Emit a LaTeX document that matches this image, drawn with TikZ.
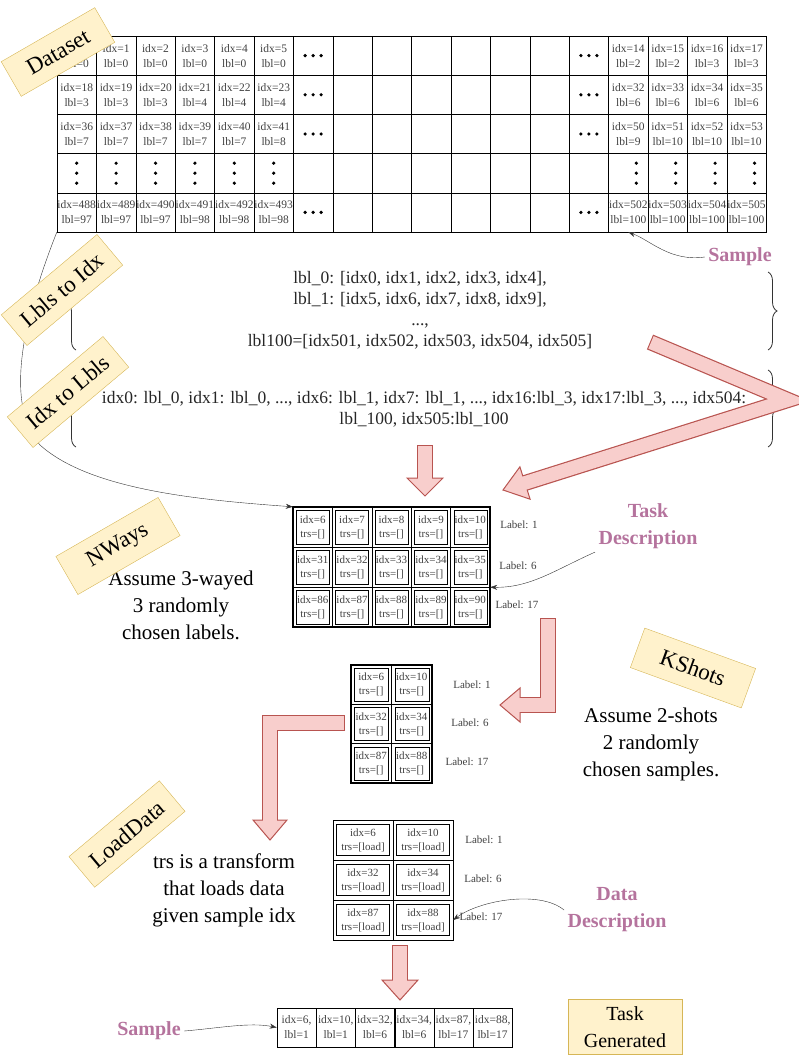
\documentclass[tikz,border=0pt]{standalone}
\usepackage{fontspec}
\setmainfont{Liberation Serif}
\usetikzlibrary{calc,decorations.pathreplacing,arrows.meta}
\definecolor{pfill}{HTML}{F8CECC}\definecolor{pline}{HTML}{B85450}
\definecolor{yfill}{HTML}{FFF2CC}\definecolor{yline}{HTML}{D6B656}
\definecolor{mauve}{HTML}{B5739D}\definecolor{celltxt}{HTML}{404040}
\tikzset{
 tag/.style={draw=yline,fill=yfill,font=\fontsize{23}{25}\selectfont,minimum height=40,inner sep=3,align=center},
 cell/.style={draw,minimum width=39.4,minimum height=39.2,inner sep=0},
 ctext/.style={text=celltxt,align=center,inner sep=0,font=\fontsize{11.5}{15}\selectfont},
 scell/.style={draw,inner sep=0},
 stext/.style={draw,text=celltxt,align=center,inner sep=0,font=\fontsize{11}{14}\selectfont},
 lab/.style={font=\fontsize{11}{12}\selectfont,text=celltxt},
 big/.style={font=\fontsize{21}{27}\selectfont,align=center},
 desc/.style={font=\bfseries\fontsize{20}{27}\selectfont,text=mauve,align=center},
 body/.style={font=\fontsize{17.5}{21}\selectfont,align=center,text=black!85},
 conn/.style={-{Stealth[length=7,width=5]},black!80,thin},
 brc/.style={decorate,decoration={brace,amplitude=9},black!80,thick},
 pout/.style={draw=pline,line width=16,miter limit=10},
 pin/.style={draw=pfill,line width=13.6,miter limit=10},
 phead/.style={fill=pfill,draw=pline,line width=1},
}
\newcommand{\hdots}[1]{\foreach \k in {-8,0,8}{\fill ($(#1)+(\k,0)$) circle (1.8);}}
\newcommand{\vdotz}[2]{\foreach \k in {-10,0,10}{\fill ($(#1)+(#2,\k)$) circle (1.8);}}
\begin{document}
\begin{tikzpicture}[x=1pt,y=-1pt]
\useasboundingbox (0,0) rectangle (799,1059);
% dataset grid
\foreach \r in {0,...,4}{\foreach \c in {0,...,17}{
 \node[cell] (g-\r-\c) at ({76.7+39.4*\c},{55.6+39.2*\r}) {};}}
\foreach \r/\c/\i/\l in {0/0/0/0,0/1/1/0,0/2/2/0,0/3/3/0,0/4/4/0,0/5/5/0,0/14/14/2,0/15/15/2,0/16/16/3,0/17/17/3,
 1/0/18/3,1/1/19/3,1/2/20/3,1/3/21/4,1/4/22/4,1/5/23/4,1/14/32/6,1/15/33/6,1/16/34/6,1/17/35/6,
 2/0/36/7,2/1/37/7,2/2/38/7,2/3/39/7,2/4/40/7,2/5/41/8,2/14/50/9,2/15/51/10,2/16/52/10,2/17/53/10,
 4/0/488/97,4/1/489/97,4/2/490/97,4/3/491/98,4/4/492/98,4/5/493/98,4/14/502/100,4/15/503/100,4/16/504/100,4/17/505/100}
 {\node[ctext] at (g-\r-\c) {idx=\i\\lbl=\l};}
\foreach \r in {0,1,2,4}{\hdots{g-\r-6}\hdots{g-\r-13}}
\foreach \c in {0,...,5}{\vdotz{g-3-\c}{0}}
\foreach \c in {14,...,17}{\vdotz{g-3-\c}{8}}
% texts
\node[body] (l2i) at (420,310) {lbl\_0: [idx0, idx1, idx2, idx3, idx4],\\lbl\_1: [idx5, idx6, idx7, idx8, idx9],\\...,\\lbl100=[idx501, idx502, idx503, idx504, idx505]};
\node[body] (i2l) at (424,409) {idx0: lbl\_0, idx1: lbl\_0, ..., idx6: lbl\_1, idx7: lbl\_1, ..., idx16:lbl\_3, idx17:lbl\_3, ..., idx504:\\lbl\_100, idx505:lbl\_100};
% braces
\draw[brc] (76,350) -- (76,255);
\draw[brc] (768,272) -- (768,350);
\draw[brc] (76,447) -- (76,370);
\draw[brc] (768,370) -- (768,447);
% NWays table
\foreach \r/\a/\b/\cc/\d/\e in {0/6/7/8/9/10,1/31/32/33/34/35,2/86/87/88/89/90}{
 \foreach \c/\v in {0/\a,1/\b,2/\cc,3/\d,4/\e}{
  \node[scell,minimum width=39.4,minimum height=40] (n-\r-\c) at ({312.7+39.4*\c},{527+40*\r}) {};
  \node[stext,minimum width=33,minimum height=34] at (n-\r-\c) {idx=\v\\trs=[]};}}
\draw[line width=1.2] (293,507) rectangle (490,627);
\node[lab] (nl1) at (519,525) {Label: 1};
\node[lab] (nl2) at (518,566) {Label: 6};
\node[lab] (nl3) at (517,605) {Label: 17};
% KShots table
\foreach \r/\a/\b in {0/6/10,1/32/34,2/87/88}{
 \foreach \c/\v in {0/\a,1/\b}{
  \node[scell,minimum width=40.5,minimum height=39.3] (k-\r-\c) at ({371.2+40.5*\c},{684.7+39.3*\r}) {};
  \node[stext,minimum width=34,minimum height=33] at (k-\r-\c) {idx=\v\\trs=[]};}}
\draw[line width=1.2] (351,665) rectangle (432,783);
\node[lab] (kl1) at (472,685) {Label: 1};
\node[lab] (kl2) at (470,723) {Label: 6};
\node[lab] (kl3) at (467,762) {Label: 17};
% LoadData table
\foreach \r/\a/\b in {0/6/10,1/32/34,2/87/88}{
 \foreach \c/\v in {0/\a,1/\b}{
  \node[scell,minimum width=60,minimum height=40] (d-\r-\c) at ({363+60*\c},{840+40*\r}) {};
  \node[stext,minimum width=53,minimum height=31] at (d-\r-\c) {idx=\v\\trs=[load]};}}
\draw[line width=1] (333,820) rectangle (453,940);
\node[lab] (dl1) at (484,840) {Label: 1};
\node[lab] (dl2) at (483,879) {Label: 6};
\node[lab] (dl3) at (481,917) {Label: 17};
% final row
\foreach \c/\i/\l in {0/6/1,1/10/1,2/32/6,3/34/6,4/87/17,5/88/17}{
 \node[cell] (f-\c) at ({296.6+39.2*\c},1027.5) {};
 \node[ctext] at (f-\c) {idx=\i,\\lbl=\l};}
% big texts
\node[big] (t1) at (181,605) {Assume 3-wayed\\3 randomly\\chosen labels.};
\node[big] (t2) at (651,744) {Assume 2-shots\\2 randomly\\chosen samples.};
\node[big] (t3) at (224,890) {trs is a transform\\that loads data\\given sample idx};
\node[desc] (s1) at (740,257) {Sample};
\node[desc] (td) at (648,526) {Task\\Description};
\node[desc] (dd) at (617,910) {Data\\Description};
\node[desc] (s2) at (149,1031) {Sample};
% connectors
\draw[conn] (s1.west) .. controls (670,262) and (650,240) .. (g-4-14.south);
\draw[conn] (td.south west) .. controls (555,570) and (530,588) .. (n-1-4.south east);
\draw[conn] (dd.west) .. controls (540,890) and (480,900) .. (d-2-1.east);
\draw[conn] (s2.east) .. controls (220,1028) and (250,1022) .. (f-0.west);
\draw[conn] (g-4-0.south west) .. controls (30,300) and (0,400) .. (40,445) .. controls (90,490) and (200,500) .. (n-0-0.north west);
% pink arrows
\draw[pout] (425,445) -- (425,478);
\draw[phead] (407,478) -- (443,478) -- (425,496) -- cycle;
\draw[pin] (425,446) -- (425,480);
\draw[pout] (400,945) -- (400,980);
\draw[phead] (382,980) -- (418,980) -- (400,1000) -- cycle;
\draw[pin] (400,946) -- (400,982);
\draw[pout] (548,618) -- (548,705) -- (520,705);
\draw[phead] (520,688) -- (520,722) -- (500,705) -- cycle;
\draw[pin] (548,619) -- (548,705) -- (518,705);
\draw[pout] (345,723) -- (270,723) -- (270,820);
\draw[phead] (253,820) -- (287,820) -- (270,840) -- cycle;
\draw[pin] (344,723) -- (270,723) -- (270,822);
\draw[pout] (650,342) -- (788,400) -- (525,483);
\draw[phead] (530.1,499.2) -- (519.9,466.8) -- (503,490) -- cycle;
\draw[pin] (651,342.4) -- (788,400) -- (523,483.6);
% tags
\node[tag,minimum width=108,rotate=30] (tg1) at (58,52) {Dataset};
\node[tag,minimum width=125,rotate=40] (tg2) at (62,290) {Lbls to Idx};
\node[tag,minimum width=125,rotate=40] (tg3) at (68,392) {Idx to Lbls};
\node[tag,minimum width=118,minimum height=44,rotate=30] (tg4) at (118,546) {NWays};
\node[tag,minimum width=118,minimum height=42,rotate=-20] (tg5) at (693,668) {KShots};
\node[tag,minimum width=118,rotate=40] (tg6) at (127,834) {LoadData};
\node[tag,minimum width=114,minimum height=55,font=\fontsize{20}{27}\selectfont] (tg7) at (625,1027) {Task\\Generated};
\end{tikzpicture}
\end{document}
